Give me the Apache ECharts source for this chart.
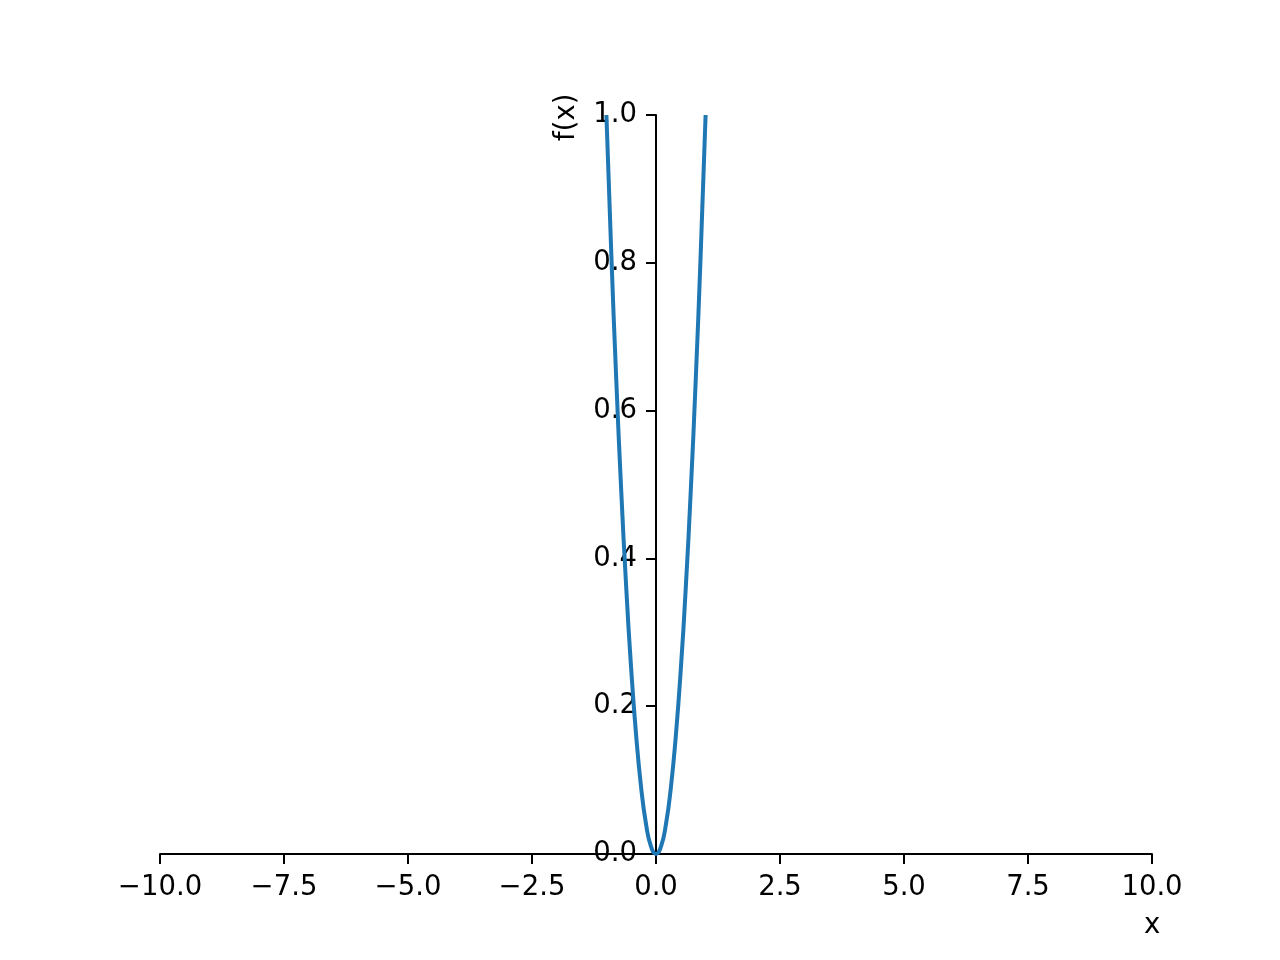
<!DOCTYPE html>
<html>
<head>
<meta charset="utf-8">
<script src="https://cdn.jsdelivr.net/npm/echarts@6/dist/echarts.min.js"></script>
<style>
html,body{margin:0;padding:0;background:#fff;}
#chart{width:1280px;height:960px;}
</style>
</head>
<body>
<div id="chart"></div>
<script>
// Curve points (x, f(x))
const xValues = [-1.0, -0.9, -0.8, -0.7, -0.6, -0.5, -0.4, -0.3, -0.2, -0.1, 0.0, 0.1, 0.2, 0.3, 0.4, 0.5, 0.6, 0.7, 0.8, 0.9, 1.0];
const yValues = [1.0, 0.81, 0.64, 0.49, 0.36, 0.25, 0.16, 0.09, 0.04, 0.01, 0.0, 0.01, 0.04, 0.09, 0.16, 0.25, 0.36, 0.49, 0.64, 0.81, 1.0];
const xTicks = [-10, -7.5, -5, -2.5, 0, 2.5, 5, 7.5, 10];
const yTicks = [0, 0.2, 0.4, 0.6, 0.8, 1.0];
const xLabel = 'x';
const yLabel = 'f(x)';

const FONT = 'DejaVu Sans';
const FS = 27.5;
const fmt = v => (v < 0 ? '\u2212' : '') + Math.abs(v).toFixed(1);

const chart = echarts.init(document.getElementById('chart'), null, {renderer: 'canvas'});
const seriesData = xValues.map((x, i) => [x, yValues[i]]);

const gridLeft = 160, gridRight = 128;
const plotW = 1280 - gridLeft - gridRight;
const xMin = xTicks[0], xMax = xTicks[xTicks.length - 1];
// put y axis at x = 0 of the x scale
const yOffset = -plotW * (0 - xMin) / (xMax - xMin);

chart.setOption({
  backgroundColor: '#ffffff',
  animation: false,
  grid: {left: gridLeft, right: gridRight, top: 115, bottom: 106, containLabel: false},
  xAxis: {
    type: 'value',
    min: xMin, max: xMax, interval: 2.5,
    splitLine: {show: false},
    axisLine: {onZero: false, lineStyle: {color: '#000', width: 2}},
    axisTick: {show: true, length: 10, lineStyle: {color: '#000', width: 2}},
    axisLabel: {color: '#000', fontFamily: FONT, fontSize: FS, margin: 20, formatter: fmt}
  },
  yAxis: {
    type: 'value',
    position: 'left',
    offset: yOffset,
    min: yTicks[0], max: yTicks[yTicks.length - 1], interval: 0.2,
    splitLine: {show: false},
    axisLine: {onZero: false, lineStyle: {color: '#000', width: 2}},
    axisTick: {show: true, length: 10, lineStyle: {color: '#000', width: 2}},
    axisLabel: {color: '#000', fontFamily: FONT, fontSize: FS, margin: 19, padding: [6, 0, 0, 0], formatter: v => v.toFixed(1)}
  },
  series: [{
    type: 'line',
    data: seriesData,
    showSymbol: false,
    smooth: true,
    clip: true,
    lineStyle: {color: '#1f77b4', width: 4},
    z: 5
  }],
  graphic: [
    {type: 'text', left: 1144, top: 912, style: {text: xLabel, font: FS + 'px "' + FONT + '"', fill: '#000'}},
    {type: 'text', x: 553, y: 141, rotation: Math.PI / 2, style: {text: yLabel, font: FS + 'px "' + FONT + '"', fill: '#000', textAlign: 'left', textVerticalAlign: 'top'}}
  ]
});
</script>
</body>
</html>
